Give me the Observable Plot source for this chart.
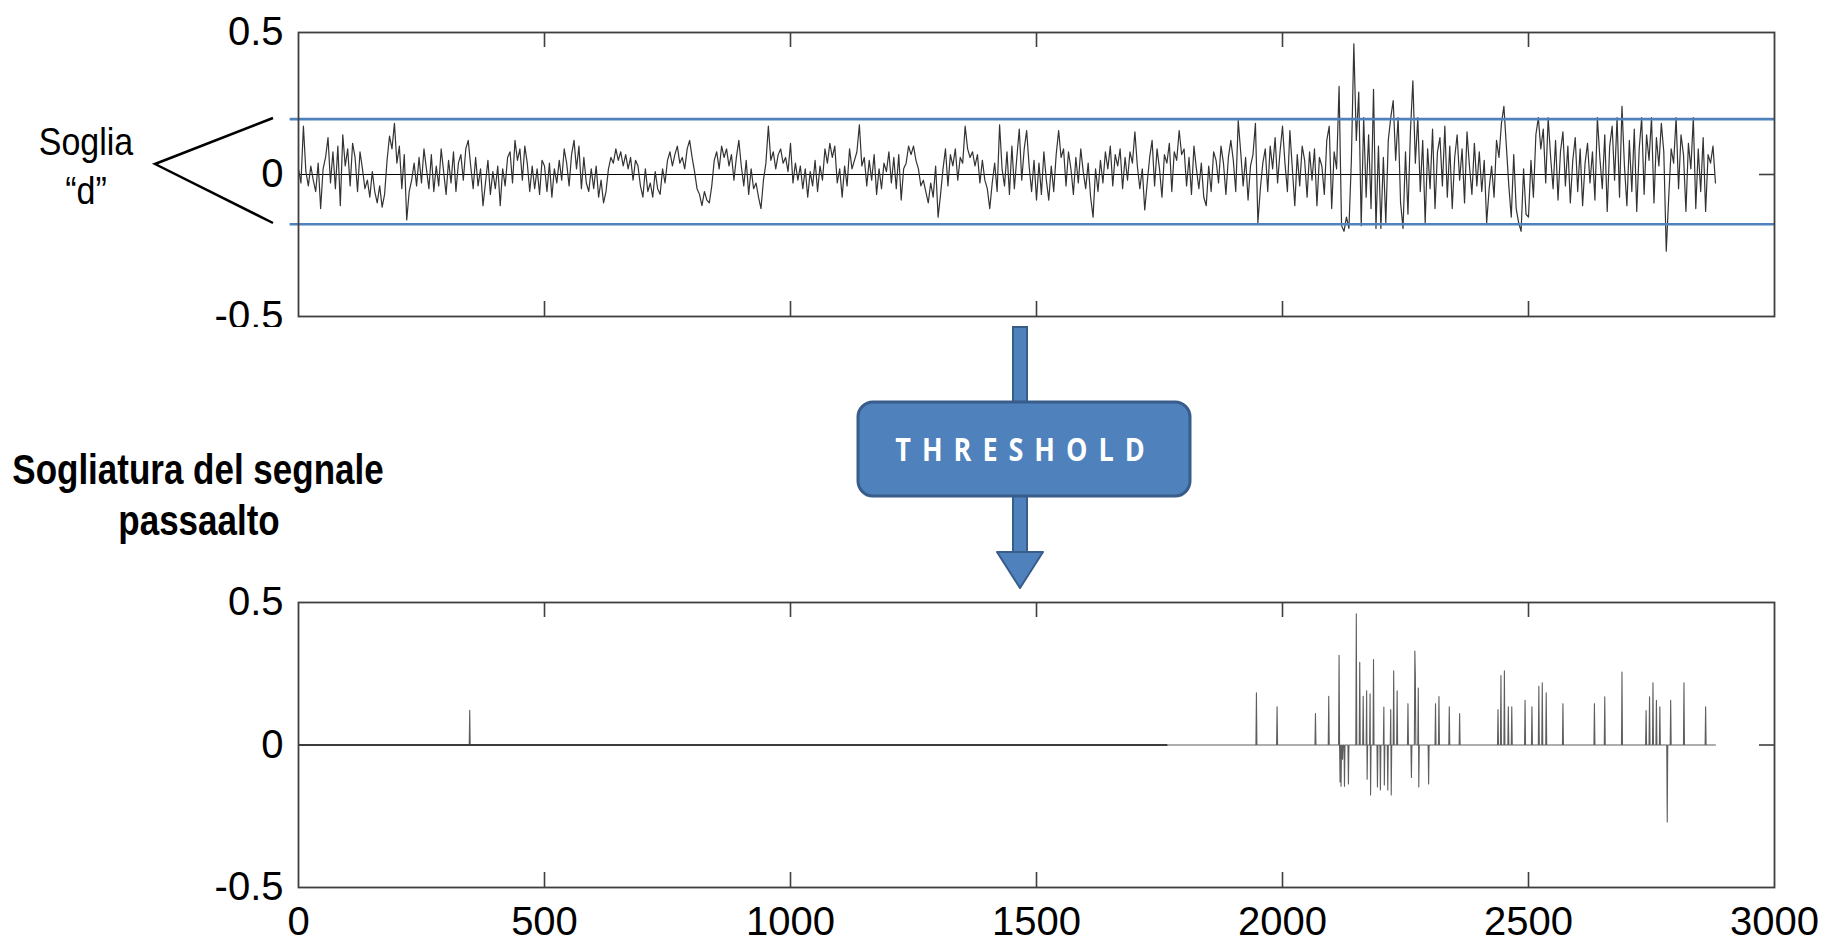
<!DOCTYPE html>
<html>
<head>
<meta charset="utf-8">
<script src="https://cdn.jsdelivr.net/npm/d3@7"></script>
<script src="https://cdn.jsdelivr.net/npm/@observablehq/plot@0.6"></script>
<style>
html, body { margin: 0; padding: 0; background: #fff; }
#page { position: relative; width: 1845px; height: 943px; overflow: hidden; background: #fff; }
#top { position: absolute; left: 0; top: 0; width: 1845px; height: 327px; overflow: hidden; }
#bottom { position: absolute; left: 0; top: 560px; width: 1845px; height: 383px; }
#overlay { position: absolute; left: 0; top: 0; pointer-events: none; }
</style>
</head>
<body>
<div id="page">
  <div id="top"></div>
  <div id="bottom"></div>
  <svg id="overlay" width="1845" height="943" xmlns="http://www.w3.org/2000/svg">
    <g font-family="'Liberation Sans', Arial, sans-serif" fill="#000">
      <text transform="translate(86,155) scale(1,1.15)" text-anchor="middle" font-size="34">Soglia</text>
      <text transform="translate(86,204) scale(1,1.15)" text-anchor="middle" font-size="34">“d”</text>
      <text transform="translate(198,484) scale(1,1.2)" text-anchor="middle" font-size="35" font-weight="bold">Sogliatura del segnale</text>
      <text transform="translate(199,535) scale(1,1.2)" text-anchor="middle" font-size="35" font-weight="bold">passaalto</text>
    </g>
    <path d="M273,118 L155,164 L273,223" fill="none" stroke="#000" stroke-width="2.5"/>
    <rect x="1013" y="327" width="14" height="228" fill="#4F81BD" stroke="#385D8A" stroke-width="2"/>
    <polygon points="997,552 1043,552 1020,588" fill="#4F81BD" stroke="#385D8A" stroke-width="2" stroke-linejoin="round"/>
    <rect x="858" y="402" width="332" height="94" rx="15" ry="15" fill="#4F81BD" stroke="#385D8A" stroke-width="3"/>
    <text transform="translate(1025.5,461) scale(1,1.2)" text-anchor="middle" font-family="'Open Sans', Lato, sans-serif" font-weight="bold" font-size="27" letter-spacing="11" fill="#fff">THRESHOLD</text>
  </svg>
</div>
<script>
// ---- data ----
const sampleStep = 5; // spacing (samples) between the values below
const highpassSignal = [
  0.02, -0.03, 0.17, 0.01, -0.04, 0.03, -0.02, -0.06, 0.04, -0.12, 0.02, 0.06, 0.13, -0.03, 0.08, -0.05, 0.10, -0.11, 0.14, 0.03,
  0.09, -0.04, 0.11, 0.06, -0.06, 0.08, 0.02, -0.05, -0.02, -0.08, 0.01, -0.06, -0.10, -0.04, -0.115, -0.07, 0.05, 0.135, 0.09, 0.18,
  0.04, 0.10, -0.05, 0.07, -0.16, -0.06, -0.02, 0.04, -0.04, 0.06, -0.03, 0.09, 0.02, -0.05, 0.07, -0.06, 0.03, -0.04, 0.09, 0.01,
  -0.07, 0.05, -0.03, 0.08, -0.06, 0.04, 0.07, -0.02, 0.09, 0.12, 0.03, -0.05, 0.06, -0.04, 0.02, -0.11, -0.03, 0.05, -0.07, 0.01,
  -0.05, 0.03, -0.11, 0.02, -0.04, 0.06, 0.08, -0.03, 0.12, 0.05, 0.09, -0.02, 0.10, 0.04, -0.06, 0.03, -0.05, 0.02, -0.07, 0.05,
  0.03, -0.06, 0.04, -0.08, 0.02, -0.03, 0.05, -0.02, 0.09, 0.04, -0.04, 0.07, 0.12, 0.02, 0.10, -0.05, 0.06, -0.03, -0.06, 0.02,
  -0.05, 0.03, -0.08, -0.02, -0.10, -0.06, 0.02, 0.06, 0.04, 0.09, 0.05, 0.08, 0.03, 0.07, 0.02, 0.06, -0.02, 0.05, 0.03, -0.04,
  -0.08, 0.02, -0.06, -0.03, -0.08, 0.01, -0.05, -0.07, 0.02, -0.03, 0.05, 0.08, 0.03, 0.07, 0.10, 0.04, 0.06, 0.02, 0.09, 0.12,
  0.06, 0.01, -0.05, -0.07, -0.11, -0.06, -0.09, -0.10, -0.04, 0.05, 0.08, 0.02, 0.10, 0.06, 0.09, 0.03, 0.07, -0.02, 0.06, 0.12,
  0.03, -0.04, 0.05, -0.07, 0.02, -0.05, -0.03, -0.08, -0.12, -0.02, 0.04, 0.17, 0.05, 0.08, 0.02, 0.07, 0.09, 0.04, 0.06, 0.01,
  0.11, -0.03, 0.04, -0.02, 0.03, -0.05, 0.02, -0.08, 0.01, -0.04, 0.05, -0.06, 0.03, -0.02, 0.09, 0.04, 0.11, 0.06, 0.10, -0.03,
  0.02, -0.08, 0.03, -0.04, 0.09, 0.02, 0.05, 0.08, 0.175, 0.03, 0.06, -0.04, 0.05, -0.02, 0.07, -0.07, 0.02, -0.05, 0.04, 0.01,
  0.08, -0.03, 0.06, -0.05, 0.07, -0.09, 0.02, 0.04, 0.10, 0.07, 0.10, 0.05, 0.02, -0.04, -0.02, -0.06, -0.10, -0.03, -0.08, 0.03,
  -0.15, -0.07, 0.02, 0.09, -0.04, 0.07, 0.03, 0.09, -0.02, 0.06, 0.04, 0.17, 0.09, 0.06, 0.08, 0.03, 0.07, -0.03, 0.05, -0.02,
  -0.05, -0.12, -0.03, 0.04, -0.06, 0.175, 0.02, -0.04, 0.08, -0.07, 0.10, -0.05, 0.06, 0.16, -0.02, 0.09, 0.155, 0.03, -0.06, 0.05,
  -0.09, 0.04, -0.07, 0.08, -0.02, -0.09, 0.03, -0.06, 0.07, 0.155, 0.06, 0.09, -0.04, 0.08, 0.02, -0.07, 0.06, -0.03, 0.09, 0.01,
  -0.05, 0.04, -0.08, -0.15, 0.02, -0.06, 0.05, -0.03, 0.08, 0.02, 0.10, -0.04, 0.07, 0.03, 0.09, -0.05, 0.06, -0.02, 0.08, 0.04,
  0.15, 0.03, -0.05, 0.02, -0.125, -0.03, 0.06, 0.12, -0.04, 0.09, 0.02, -0.08, 0.07, 0.04, 0.11, -0.06, 0.08, 0.05, 0.155, 0.07,
  0.09, -0.04, 0.06, -0.07, 0.10, 0.02, -0.05, 0.04, -0.08, -0.11, 0.03, -0.06, 0.08, 0.05, -0.03, 0.10, 0.04, -0.07, 0.06, 0.12,
  0.05, -0.06, 0.19, 0.08, -0.04, 0.06, -0.09, 0.03, 0.07, 0.18, -0.17, -0.05, 0.04, 0.09, -0.06, 0.10, 0.02, 0.13, -0.03, 0.08,
  0.17, 0.04, -0.06, 0.155, 0.02, -0.11, 0.07, -0.04, 0.10, 0.05, -0.08, 0.08, -0.02, 0.09, -0.11, 0.06, 0.03, -0.07, 0.12, 0.17,
  -0.12, 0.08, 0.02, 0.31, -0.18, -0.20, -0.15, -0.19, 0.05, 0.46, 0.12, 0.29, -0.18, 0.20, -0.08, 0.14, -0.12, 0.30, -0.19, 0.10,
  -0.19, 0.06, -0.17, 0.12, 0.20, 0.26, 0.05, 0.20, -0.10, -0.19, 0.08, -0.14, 0.15, 0.33, 0.04, 0.20, -0.06, 0.12, -0.17, 0.09,
  -0.05, 0.16, -0.12, 0.08, 0.13, -0.04, 0.17, -0.08, 0.10, -0.12, 0.06, 0.14, -0.02, 0.09, -0.10, 0.15, 0.03, -0.07, 0.11, -0.04,
  0.08, -0.06, 0.05, -0.17, -0.05, 0.03, -0.08, 0.12, 0.06, 0.18, 0.24, 0.10, -0.04, -0.15, 0.07, -0.12, -0.17, -0.20, 0.02, -0.14,
  -0.15, 0.05, -0.08, 0.14, 0.20, 0.09, 0.16, -0.03, 0.20, 0.06, -0.05, 0.12, -0.09, 0.08, 0.15, -0.04, 0.10, -0.10, 0.05, 0.13,
  -0.06, 0.09, -0.11, 0.04, 0.11, -0.03, 0.08, -0.09, 0.20, 0.06, -0.05, 0.14, -0.13, 0.10, 0.17, -0.02, 0.20, -0.08, 0.24, 0.03,
  -0.11, 0.12, -0.06, 0.16, -0.13, 0.09, 0.20, -0.07, 0.14, 0.05, 0.20, -0.10, 0.13, 0.03, 0.18, 0.08, -0.27, -0.08, 0.09, 0.04,
  0.20, -0.05, 0.14, 0.07, -0.13, 0.11, 0.02, 0.20, -0.12, 0.09, -0.06, 0.13, -0.13, 0.07, 0.04, 0.10, -0.03
];

// surviving samples after thresholding (sample index, value)
const spikeX = [348, 1947, 1989, 2067, 2094, 2115, 2117, 2119, 2122, 2126, 2130, 2134, 2150, 2157, 2164, 2171, 2172,
  2178, 2179, 2185, 2193, 2199, 2206, 2207, 2214, 2220, 2221, 2226, 2233, 2255, 2262, 2269, 2270, 2276, 2277, 2297,
  2311, 2318, 2339, 2360, 2438, 2444, 2451, 2459, 2466, 2493, 2507, 2521, 2528, 2536, 2570, 2634, 2655, 2690, 2739,
  2746, 2753, 2760, 2767, 2782, 2789, 2816, 2860];
const spikeValue = [0.122, 0.183, 0.134, 0.11, 0.171, 0.315, -0.13, -0.145, -0.05, -0.145, 0, -0.137, 0.46, 0.29, 0.171, 0.19, -0.12,
  0.18, -0.175, 0.30, -0.147, -0.158, 0.133, -0.14, -0.158, 0.124, -0.175, 0.26, 0.19, 0.145, -0.114, 0.33, 0.245, 0.20, -0.147, -0.137,
  0.145, 0.17, 0.134, 0.11, 0.124, 0.244, 0.26, 0.134, 0.134, 0.157, 0.134, 0.206, 0.218, 0.183, 0.145, 0.145, 0.169, 0.256, 0.121,
  0.169, 0.218, 0.157, 0.134, -0.27, 0.157, 0.218, 0.134];

const signalEnd = 2880;          // last sample
const thresholdUpper = 0.195;    // soglia "d" (upper line)
const thresholdLower = -0.175;   // soglia "d" (lower line)
const thresholdLineStart = -17;  // blue lines begin just left of the frame
const darkZeroEnd = 1767;        // dark part of the zero line in the lower plot

const xDomain = [0, 3000];
const yDomain = [-0.5, 0.5];
const xTickLabels = [0, 500, 1000, 1500, 2000, 2500, 3000];
const xInnerTicks = [500, 1000, 1500, 2000, 2500];
const yTickLabels = [-0.5, 0, 0.5];

// ---- tables built from the arrays ----
const topData = highpassSignal.map((v, i) => ({x: i * sampleStep, y: v}));

const spikes = spikeX.map((x, i) => ({x, y: spikeValue[i]}));
const bottomData = [{x: 0, y: 0}];
let prev = 0;
for (const p of spikes) {
  if (p.x - 1 > prev) {
    bottomData.push({x: prev + 1, y: 0});
    bottomData.push({x: p.x - 1, y: 0});
  }
  bottomData.push(p);
  prev = p.x;
}
bottomData.push({x: prev + 1, y: 0});
bottomData.push({x: signalEnd, y: 0});

const thresholds = [
  {y: thresholdUpper, x1: thresholdLineStart, x2: xDomain[1]},
  {y: thresholdLower, x1: thresholdLineStart, x2: xDomain[1]}
];
const zeroTop = [{y: 0, x1: 0, x2: signalEnd}];
const zeroBottomDark = [{y: 0, x1: 0, x2: darkZeroEnd}];

// ---- layout ----
const W = 1845, ML = 298, MR = 71;
const innerW = W - ML - MR;
const font = '"Liberation Sans", Arial, Helvetica, sans-serif';
const frameColor = "#3f3f3f";

function boxTicks(innerH) {
  return [
    Plot.tickX(xInnerTicks, {x: d => d, insetBottom: innerH - 15, stroke: frameColor, strokeWidth: 1.6}),
    Plot.tickX(xInnerTicks, {x: d => d, insetTop: innerH - 15, stroke: frameColor, strokeWidth: 1.6}),
    Plot.tickY([0], {y: d => d, insetLeft: innerW - 15, stroke: frameColor, strokeWidth: 1.6}),
    Plot.frame({stroke: frameColor, strokeWidth: 1.8}),
    Plot.axisY({anchor: "left", ticks: yTickLabels, tickSize: 0, tickPadding: 15,
      tickFormat: d => String(d), fontSize: 40, label: null})
  ];
}

const styleObj = {fontFamily: font, fontSize: "40px", color: "#000", background: "transparent", overflow: "visible"};

// upper plot
const topH = 346, topMT = 32, topMB = 30;
const topPlot = Plot.plot({
  width: W, height: topH, marginLeft: ML, marginRight: MR, marginTop: topMT, marginBottom: topMB,
  x: {domain: xDomain, axis: null},
  y: {domain: yDomain},
  style: styleObj,
  marks: [
    Plot.ruleY(zeroTop, {y: "y", x1: "x1", x2: "x2", stroke: "#000", strokeWidth: 1.2}),
    Plot.line(topData, {x: "x", y: "y", stroke: "#333", strokeWidth: 1.2}),
    Plot.ruleY(thresholds, {y: "y", x1: "x1", x2: "x2", stroke: "#4F81BD", strokeWidth: 2.6}),
    ...boxTicks(topH - topMT - topMB)
  ]
});
document.getElementById("top").appendChild(topPlot);

// lower plot
const botH = 383, botMT = 42, botMB = 56;
const bottomPlot = Plot.plot({
  width: W, height: botH, marginLeft: ML, marginRight: MR, marginTop: botMT, marginBottom: botMB,
  x: {domain: xDomain},
  y: {domain: yDomain},
  style: styleObj,
  marks: [
    Plot.line(bottomData, {x: "x", y: "y", stroke: "#5e5e5e", strokeWidth: 1.1}),
    Plot.ruleY(zeroBottomDark, {y: "y", x1: "x1", x2: "x2", stroke: "#3c3c3c", strokeWidth: 1.8}),
    ...boxTicks(botH - botMT - botMB),
    Plot.axisX({anchor: "bottom", ticks: xTickLabels, tickSize: 0, tickPadding: 19,
      tickFormat: d => String(d), fontSize: 40, label: null})
  ]
});
document.getElementById("bottom").appendChild(bottomPlot);
</script>
</body>
</html>
